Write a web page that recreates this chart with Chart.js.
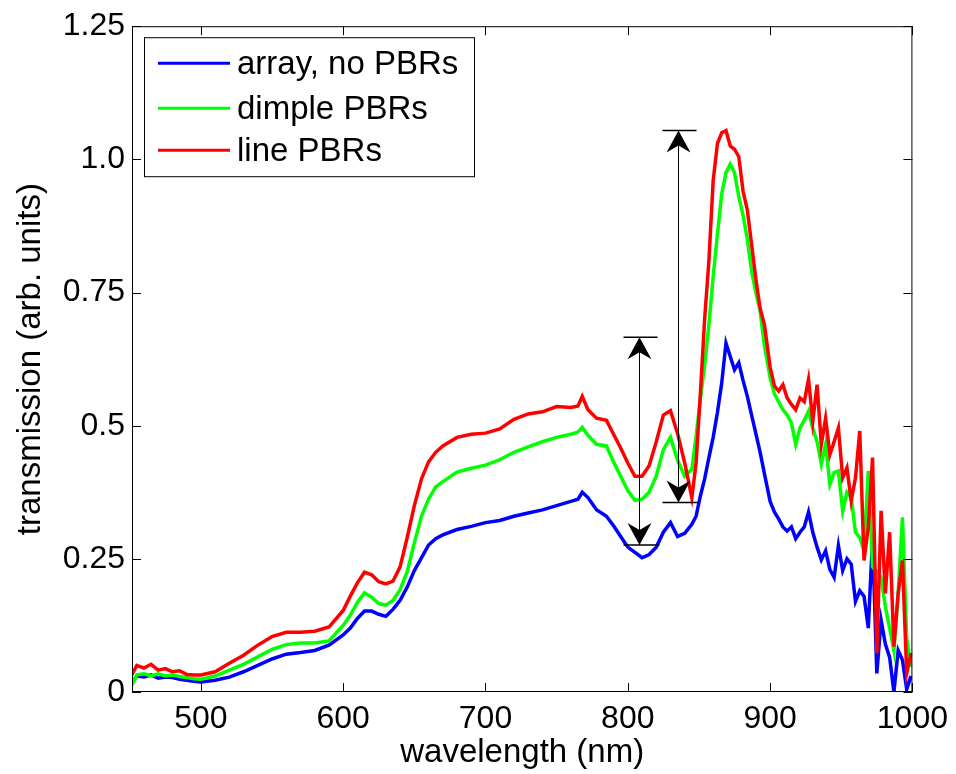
<!DOCTYPE html>
<html>
<head>
<meta charset="utf-8">
<title>transmission spectra</title>
<script src="https://cdn.jsdelivr.net/npm/chart.js@4.4.1/dist/chart.umd.min.js"></script>
<style>
  html, body { margin: 0; padding: 0; background: #fff; }
  #wrap { width: 956px; height: 774px; position: relative; }
</style>
</head>
<body>
<div id="wrap"><canvas id="specChart"></canvas></div>
<script>
// wavelength grid (nm)
const wavelengths = [
  451, 455, 460, 465, 470, 475, 480, 485, 490, 495,
  500, 510, 520, 530, 540, 550, 560, 570, 580, 590,
  600, 605, 610, 615, 620, 625, 630, 635, 640, 645,
  650, 655, 660, 665, 670, 680, 690, 700, 710, 720,
  730, 740, 750, 760, 765, 768, 772, 778, 785, 790,
  795, 800, 805, 810, 815, 820, 825, 830, 835, 840,
  845, 848, 851, 854, 857, 860, 863, 866, 869, 872,
  875, 878, 881, 884, 887, 890, 893, 896, 900, 903,
  906, 909, 912, 915, 918, 921, 924, 927, 930, 933,
  936, 939, 942, 945, 948, 951, 954, 957, 960, 963,
  966, 969, 972, 975, 978, 981, 984, 987, 990, 993,
  996, 999
];

const arrayNoPBR = [
  0.015, 0.030, 0.028, 0.032, 0.026, 0.028, 0.027, 0.024, 0.022, 0.020,
  0.019, 0.022, 0.028, 0.038, 0.050, 0.062, 0.071, 0.074, 0.078, 0.088,
  0.107, 0.120, 0.138, 0.152, 0.152, 0.146, 0.142, 0.155, 0.172, 0.197,
  0.228, 0.252, 0.276, 0.288, 0.295, 0.305, 0.311, 0.318, 0.322, 0.330,
  0.336, 0.342, 0.350, 0.358, 0.362, 0.375, 0.365, 0.342, 0.330, 0.312,
  0.292, 0.272, 0.262, 0.252, 0.258, 0.272, 0.300, 0.318, 0.292, 0.298,
  0.315, 0.330, 0.368, 0.400, 0.440, 0.478, 0.525, 0.580, 0.655, 0.630,
  0.605, 0.618, 0.585, 0.555, 0.520, 0.485, 0.450, 0.410, 0.358, 0.338,
  0.325, 0.310, 0.302, 0.310, 0.288, 0.300, 0.310, 0.338, 0.300, 0.272,
  0.248, 0.265, 0.230, 0.215, 0.275, 0.228, 0.250, 0.240, 0.170, 0.190,
  0.180, 0.120, 0.290, 0.035, 0.135, 0.090, 0.065, 0.000, 0.078, 0.060,
  0.005, 0.030
];

const dimplePBR = [
  0.010, 0.032, 0.034, 0.030, 0.034, 0.030, 0.032, 0.029, 0.027, 0.025,
  0.024, 0.030, 0.041, 0.052, 0.066, 0.080, 0.089, 0.092, 0.092, 0.096,
  0.125, 0.144, 0.168, 0.186, 0.178, 0.166, 0.163, 0.172, 0.192, 0.226,
  0.280, 0.330, 0.362, 0.385, 0.395, 0.413, 0.420, 0.426, 0.436, 0.450,
  0.460, 0.470, 0.478, 0.484, 0.488, 0.497, 0.482, 0.465, 0.462, 0.432,
  0.405, 0.378, 0.360, 0.362, 0.375, 0.405, 0.455, 0.478, 0.435, 0.405,
  0.418, 0.480, 0.550, 0.614, 0.690, 0.780, 0.860, 0.935, 0.975, 0.991,
  0.975, 0.930, 0.895, 0.850, 0.790, 0.750, 0.715, 0.650, 0.590, 0.560,
  0.545, 0.530, 0.520, 0.505, 0.465, 0.496, 0.510, 0.527, 0.495, 0.470,
  0.428, 0.465, 0.390, 0.412, 0.415, 0.340, 0.375, 0.365, 0.300, 0.290,
  0.265, 0.415, 0.235, 0.225, 0.215, 0.160, 0.120, 0.078, 0.185, 0.328,
  0.100, 0.047
];

const linePBR = [
  0.030, 0.050, 0.045, 0.052, 0.041, 0.044, 0.038, 0.040, 0.033, 0.032,
  0.032, 0.038, 0.054, 0.069, 0.088, 0.104, 0.112, 0.112, 0.114, 0.122,
  0.153, 0.180, 0.205, 0.225, 0.220, 0.207, 0.203, 0.208, 0.235, 0.290,
  0.350, 0.400, 0.432, 0.450, 0.462, 0.478, 0.484, 0.486, 0.494, 0.512,
  0.522, 0.526, 0.536, 0.534, 0.537, 0.555, 0.530, 0.514, 0.510, 0.484,
  0.458, 0.430, 0.405, 0.405, 0.425, 0.470, 0.520, 0.528, 0.485, 0.430,
  0.365, 0.430, 0.560, 0.700, 0.810, 0.960, 1.030, 1.050, 1.054, 1.025,
  1.019, 1.005, 0.940, 0.905, 0.840, 0.775, 0.720, 0.690, 0.610, 0.575,
  0.565, 0.577, 0.552, 0.540, 0.530, 0.552, 0.545, 0.587, 0.508, 0.577,
  0.465, 0.514, 0.446, 0.470, 0.496, 0.402, 0.421, 0.359, 0.402, 0.490,
  0.247, 0.309, 0.440, 0.073, 0.340, 0.185, 0.300, 0.085, 0.185, 0.247,
  0.035, 0.073
];

const seriesNames = ['array, no PBRs', 'dimple PBRs', 'line PBRs'];
const seriesColors = ['#0000ff', '#00ff00', '#ff0000'];

const xTicks = [500, 600, 700, 800, 900, 1000];
const yTicks = [0, 0.25, 0.5, 0.75, 1.0, 1.25];
const yTickLabels = ['0', '0.25', '0.5', '0.75', '1.0', '1.25'];

// double arrows marking the gain (wavelength, low end, high end)
const arrowNm = [808, 835];
const arrowLow = [0.276, 0.356];
const arrowHigh = [0.666, 1.054];

const FONT = "'Liberation Sans', Arial, Helvetica, sans-serif";

function toPoints(vals) {
  return wavelengths.map((w, i) => ({ x: w, y: vals[i] }));
}

function arrowHead(ctx, x, y, dir) {
  // dir = -1 pointing up, +1 pointing down (matlab 'vback2' style)
  ctx.beginPath();
  ctx.moveTo(x, y);
  ctx.lineTo(x - 12, y - dir * 22);
  ctx.lineTo(x, y - dir * 15);
  ctx.lineTo(x + 12, y - dir * 22);
  ctx.closePath();
  ctx.fill();
}

const framePlugin = {
  id: 'frame',
  afterDatasetsDraw(chart) {
    const { ctx, chartArea: a, scales: { x, y } } = chart;
    ctx.save();

    // arrows
    ctx.strokeStyle = '#000';
    ctx.fillStyle = '#000';
    arrowNm.forEach((nm, i) => {
      const px = Math.round(x.getPixelForValue(nm)) + 0.5;
      const lo = y.getPixelForValue(arrowLow[i]);
      const hi = y.getPixelForValue(arrowHigh[i]);
      ctx.lineWidth = 1;
      ctx.beginPath();
      ctx.moveTo(px, lo);
      ctx.lineTo(px, hi);
      ctx.stroke();
      ctx.lineWidth = 1.5;
      ctx.beginPath();
      ctx.moveTo(px - 16, lo); ctx.lineTo(px + 20, lo);
      ctx.moveTo(px - 16, hi); ctx.lineTo(px + 18, hi);
      ctx.stroke();
      arrowHead(ctx, px, hi, -1);
      arrowHead(ctx, px, lo, 1);
    });

    // axes box and inward ticks
    ctx.lineWidth = 1;
    ctx.strokeStyle = '#000';
    ctx.strokeRect(a.left + 0.5, a.top + 0.5, a.width - 1, a.height - 1);
    ctx.beginPath();
    xTicks.forEach(v => {
      const px = Math.round(x.getPixelForValue(v)) + 0.5;
      ctx.moveTo(px, a.bottom); ctx.lineTo(px, a.bottom - 9);
      ctx.moveTo(px, a.top); ctx.lineTo(px, a.top + 9);
    });
    yTicks.forEach(v => {
      const py = Math.round(y.getPixelForValue(v)) + 0.5;
      ctx.moveTo(a.left, py); ctx.lineTo(a.left + 9, py);
      ctx.moveTo(a.right, py); ctx.lineTo(a.right - 9, py);
    });
    ctx.stroke();

    // legend
    const bx = a.left + 12, by = a.top + 11, bw = 330, bh = 139;
    ctx.fillStyle = '#fff';
    ctx.fillRect(bx, by, bw, bh);
    ctx.strokeRect(bx + 0.5, by + 0.5, bw, bh);
    const rows = [26, 71, 113];
    ctx.font = '33px ' + FONT;
    ctx.textBaseline = 'middle';
    ctx.textAlign = 'left';
    seriesNames.forEach((name, i) => {
      ctx.strokeStyle = seriesColors[i];
      ctx.lineWidth = 3;
      ctx.beginPath();
      ctx.moveTo(bx + 14, by + rows[i]);
      ctx.lineTo(bx + 86, by + rows[i]);
      ctx.stroke();
      ctx.fillStyle = '#000';
      ctx.fillText(name, bx + 93, by + rows[i] + 2);
    });

    ctx.restore();
  }
};

const allSeries = [arrayNoPBR, dimplePBR, linePBR];
const datasets = allSeries.map((vals, i) => ({
  label: seriesNames[i],
  data: toPoints(vals),
  borderColor: seriesColors[i],
  backgroundColor: seriesColors[i],
  borderWidth: 3.5,
  pointRadius: 0,
  tension: 0,
  fill: false,
  order: 3 - i   // red drawn last, on top
}));

new Chart(document.getElementById('specChart').getContext('2d'), {
  type: 'line',
  data: { datasets },
  options: {
    responsive: true,
    maintainAspectRatio: false,
    animation: false,
    devicePixelRatio: 1,
    layout: { padding: { top: 23, right: 43, left: 0, bottom: 0 } },
    plugins: {
      legend: { display: false },
      tooltip: { enabled: false }
    },
    scales: {
      x: {
        type: 'linear',
        min: 451.6,
        max: 1000,
        grid: { display: false, drawTicks: false },
        border: { display: false },
        afterBuildTicks: s => { s.ticks = xTicks.map(v => ({ value: v })); },
        afterFit: s => { s.height = 82; },
        ticks: {
          color: '#000',
          font: { family: FONT, size: 32 },
          padding: 8,
          maxRotation: 0,
          autoSkip: false,
          callback: v => String(v)
        },
        title: {
          display: true,
          text: 'wavelength (nm)',
          color: '#000',
          font: { family: FONT, size: 33 },
          padding: { top: 0, bottom: 1 }
        }
      },
      y: {
        min: 0,
        max: 1.25,
        grid: { display: false, drawTicks: false },
        border: { display: false },
        afterBuildTicks: s => { s.ticks = yTicks.map(v => ({ value: v })); },
        afterFit: s => { s.width = 132; },
        ticks: {
          color: '#000',
          font: { family: FONT, size: 32 },
          padding: 7,
          autoSkip: false,
          callback: v => {
            const k = yTicks.indexOf(v);
            return k >= 0 ? yTickLabels[k] : '';
          }
        },
        title: {
          display: true,
          text: 'transmission (arb. units)',
          color: '#000',
          font: { family: FONT, size: 33 },
          padding: { top: 11, bottom: 0 }
        }
      }
    }
  },
  plugins: [framePlugin]
});
</script>
</body>
</html>
